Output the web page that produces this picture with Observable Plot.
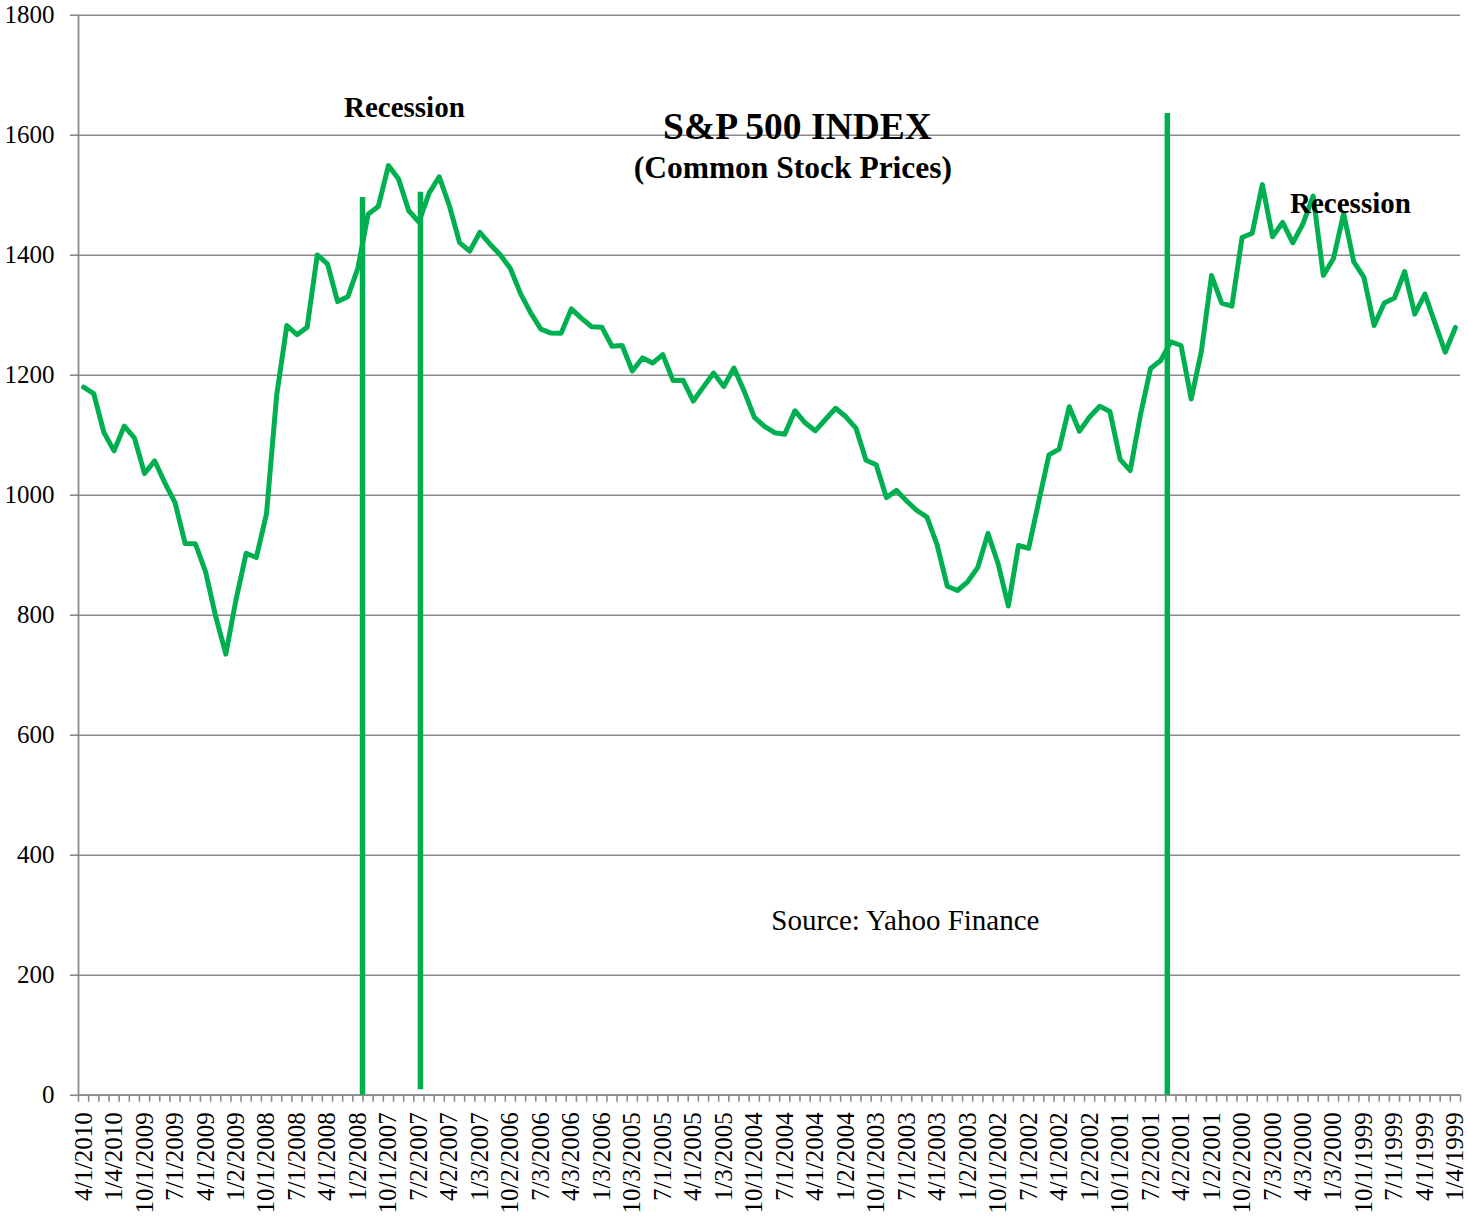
<!DOCTYPE html>
<html><head><meta charset="utf-8">
<script src="https://cdn.jsdelivr.net/npm/d3@7"></script>
<script src="https://cdn.jsdelivr.net/npm/@observablehq/plot@0.6"></script>
<style>
html,body{margin:0;padding:0;background:#fff;}
#chart svg{display:block;}
</style>
</head><body><div id="chart"></div>
<script>
// Monthly S&P 500 closes, newest (Apr 2010) first, back to Jan 1999
const values = [
  1180.0, 1169.4, 1104.5, 1073.9,
  1115.1, 1095.6, 1036.2, 1057.1, 1020.6, 987.5, 919.3, 919.1, 872.8, 797.9, 735.1, 825.9,
  903.3, 896.2, 968.8, 1166.4, 1282.8, 1267.4, 1280.0, 1400.4, 1385.6, 1322.7, 1330.6, 1378.6,
  1468.4, 1481.1, 1549.4, 1526.8, 1474.0, 1455.3, 1503.4, 1530.6, 1482.4, 1420.9, 1406.8, 1438.2,
  1418.3, 1400.6, 1377.9, 1335.9, 1303.8, 1276.7, 1270.2, 1270.1, 1310.6, 1294.8, 1280.7, 1280.1,
  1248.3, 1249.5, 1207.0, 1228.8, 1220.3, 1234.2, 1191.3, 1191.5, 1156.9, 1180.6, 1203.6, 1181.3,
  1211.9, 1173.8, 1130.2, 1114.6, 1104.2, 1101.7, 1140.8, 1120.7, 1107.3, 1126.2, 1144.9, 1131.1,
  1111.9, 1058.2, 1050.7, 996.0, 1008.0, 990.3, 974.5, 963.6, 916.9, 848.2, 841.2, 855.7,
  879.8, 936.3, 885.8, 815.3, 916.1, 911.6, 989.8, 1067.1, 1076.9, 1147.4, 1106.7, 1130.2,
  1148.1, 1139.5, 1059.8, 1040.9, 1133.6, 1211.2, 1224.4, 1255.8, 1249.5, 1160.3, 1239.9, 1366.0,
  1320.3, 1315.0, 1429.4, 1436.5, 1517.7, 1430.8, 1454.6, 1420.6, 1452.4, 1498.6, 1366.4, 1394.5,
  1469.3, 1388.9, 1362.9, 1282.7, 1320.4, 1328.7, 1372.7, 1301.8, 1335.2, 1286.4, 1238.3, 1279.6
];

// Category labels shown every third month
const tickLabels = [
  "4/1/2010","1/4/2010","10/1/2009","7/1/2009","4/1/2009","1/2/2009","10/1/2008","7/1/2008",
  "4/1/2008","1/2/2008","10/1/2007","7/2/2007","4/2/2007","1/3/2007","10/2/2006","7/3/2006",
  "4/3/2006","1/3/2006","10/3/2005","7/1/2005","4/1/2005","1/3/2005","10/1/2004","7/1/2004",
  "4/1/2004","1/2/2004","10/1/2003","7/1/2003","4/1/2003","1/2/2003","10/1/2002","7/1/2002",
  "4/1/2002","1/2/2002","10/1/2001","7/2/2001","4/2/2001","1/2/2001","10/2/2000","7/3/2000",
  "4/3/2000","1/3/2000","10/1/1999","7/1/1999","4/1/1999","1/4/1999"
];
const labelStep = 3;

// Recession marker lines (category position, bottom value, top value)
const recessionAt = [27.45, 33.15, 106.65];
const recessionBottom = [0, 9, 0];
const recessionTop = [1496, 1505, 1636];

const yTicks = [0, 200, 400, 600, 800, 1000, 1200, 1400, 1600, 1800];

const titleText = "S&P 500 INDEX";
const subtitleText = "(Common Stock Prices)";
const recessionText = "Recession";
const sourceText = "Source: Yahoo Finance";

const green = "#00B050";
const grey = "#8a8a8a";
const serif = "'Liberation Serif', 'Times New Roman', serif";
const n = values.length;
const boundaries = d3.range(n + 1).map(k => k - 0.5);

const chart = Plot.plot({
  width: 1468,
  height: 1216,
  marginLeft: 78,
  marginRight: 8,
  marginTop: 14.7,
  marginBottom: 121.3,
  style: {fontFamily: serif, background: "#fff", color: "#000"},
  x: {type: "linear", domain: [-0.5, n - 0.5]},
  y: {domain: [0, 1800]},
  marks: [
    Plot.gridY(yTicks, {stroke: grey, strokeOpacity: 1, strokeWidth: 1.6}),
    Plot.axisY(yTicks, {tickSize: 8, tickPadding: 16, fontSize: 25, stroke: grey, strokeWidth: 1.6,
      fill: "#000", label: null, tickFormat: d => String(d)}),
    Plot.axisX(boundaries, {tickSize: 7, tickFormat: () => "", stroke: grey, strokeWidth: 1.6, label: null}),
    Plot.ruleX([-0.5], {stroke: grey, strokeWidth: 1.8}),
    Plot.ruleY([0], {stroke: grey, strokeWidth: 1.8}),
    Plot.text(tickLabels, {x: (d, i) => i * labelStep, y: 0, text: d => d, rotate: -90,
      textAnchor: "end", lineAnchor: "middle", dy: 17, fontSize: 25, fill: "#000"}),
    Plot.ruleX(recessionAt, {x: d => d, y1: (d, i) => recessionBottom[i], y2: (d, i) => recessionTop[i],
      stroke: green, strokeWidth: 5.5}),
    Plot.line(values, {x: (d, i) => i, y: d => d, stroke: green, strokeWidth: 5,
      strokeLinejoin: "round", strokeLinecap: "round"}),
    Plot.text([titleText], {x: 70.25, y: 1614, text: d => d, fontSize: 37.5, fontWeight: "bold", lineAnchor: "middle", fill: "#000"}),
    Plot.text([subtitleText], {x: 69.8, y: 1546, text: d => d, fontSize: 31.5, fontWeight: "bold", lineAnchor: "middle", fill: "#000"}),
    Plot.text([recessionText], {x: 31.57, y: 1646, text: d => d, fontSize: 29, fontWeight: "bold", lineAnchor: "middle", fill: "#000"}),
    Plot.text([recessionText], {x: 124.67, y: 1485, text: d => d, fontSize: 29, fontWeight: "bold", lineAnchor: "middle", fill: "#000"}),
    Plot.text([sourceText], {x: 80.87, y: 290, text: d => d, fontSize: 29, lineAnchor: "middle", fill: "#000"})
  ]
});
document.getElementById("chart").appendChild(chart);
</script>
</body></html>
